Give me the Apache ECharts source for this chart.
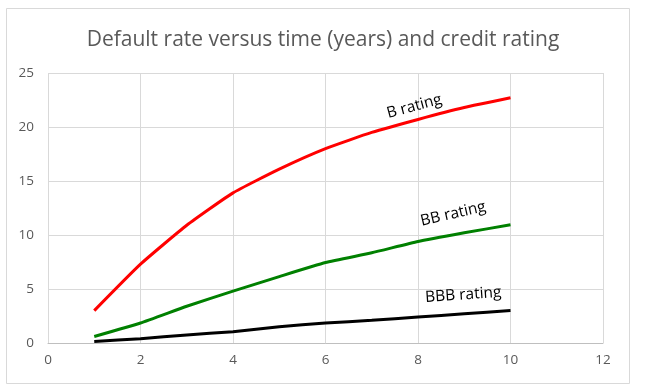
<!DOCTYPE html>
<html>
<head>
<meta charset="utf-8">
<script src="https://cdn.jsdelivr.net/npm/echarts@6/dist/echarts.min.js"></script>
<style>
    html, body { margin: 0; padding: 0; background: #fff; }
    #chart { width: 646px; height: 392px; }
</style>
</head>
<body>
<div id="chart"></div>
<script>
// years
var years = [1, 2, 3, 4, 5, 6, 7, 8, 9, 10];
// cumulative default rate (%) per rating
var bRating = [3.0, 7.3, 10.9, 13.9, 16.1, 18.0, 19.5, 20.7, 21.8, 22.7];
var bbRating = [0.6, 1.85, 3.4, 4.8, 6.15, 7.45, 8.35, 9.4, 10.2, 10.95];
var bbbRating = [0.15, 0.4, 0.75, 1.05, 1.5, 1.85, 2.1, 2.4, 2.7, 3.0];

// label anchor points (data units)
var labelPos = {
    b: [7.92, 21.9],
    bb: [8.76, 11.95],
    bbb: [8.98, 4.45]
};

var font = 'Open Sans, Noto Sans, sans-serif';

function pairs(ys) {
    return years.map(function (x, i) { return [x, ys[i]]; });
}

function lineSeries(name, ys, color, pos, rot) {
    return {
        name: name,
        type: 'line',
        data: pairs(ys),
        showSymbol: false,
        symbol: 'none',
        smooth: 0.15,
        lineStyle: { color: color, width: 3 },
        animation: false,
        markPoint: {
            symbol: 'circle',
            symbolSize: 0,
            data: [{
                coord: pos,
                label: {
                    show: true,
                    formatter: name,
                    color: '#000',
                    fontFamily: font,
                    fontSize: 15.5,
                    rotate: rot,
                    position: 'inside'
                }
            }]
        }
    };
}

var chart = echarts.init(document.getElementById('chart'));
chart.setOption({
    backgroundColor: '#fff',
    animation: false,
    title: {
        text: 'Default rate versus time (years) and credit rating',
        left: 'center',
        top: 25,
        textStyle: { color: '#595959', fontFamily: font, fontSize: 21, fontWeight: 'normal' }
    },
    graphic: [{
        type: 'rect',
        shape: { x: 6.5, y: 8.5, width: 623, height: 375 },
        style: { fill: 'none', stroke: '#d9d9d9', lineWidth: 1 },
        silent: true
    }],
    grid: { left: 48, right: 43, top: 73, bottom: 49 },
    xAxis: {
        type: 'value',
        min: 0,
        max: 12,
        interval: 2,
        axisLine: { show: true, lineStyle: { color: '#bfbfbf' } },
        axisTick: { show: false },
        axisLabel: { color: '#595959', fontFamily: font, fontSize: 13.5, margin: 10 },
        splitLine: { show: true, lineStyle: { color: '#d9d9d9' } }
    },
    yAxis: {
        type: 'value',
        min: 0,
        max: 25,
        interval: 5,
        axisLine: { show: false },
        axisTick: { show: false },
        axisLabel: { color: '#595959', fontFamily: font, fontSize: 13.5, margin: 14 },
        splitLine: { show: true, lineStyle: { color: '#d9d9d9' } }
    },
    series: [
        lineSeries('B rating', bRating, '#ff0000', labelPos.b, 15),
        lineSeries('BB rating', bbRating, '#008000', labelPos.bb, 13),
        lineSeries('BBB rating', bbbRating, '#000000', labelPos.bbb, 4)
    ]
});
</script>
</body>
</html>
